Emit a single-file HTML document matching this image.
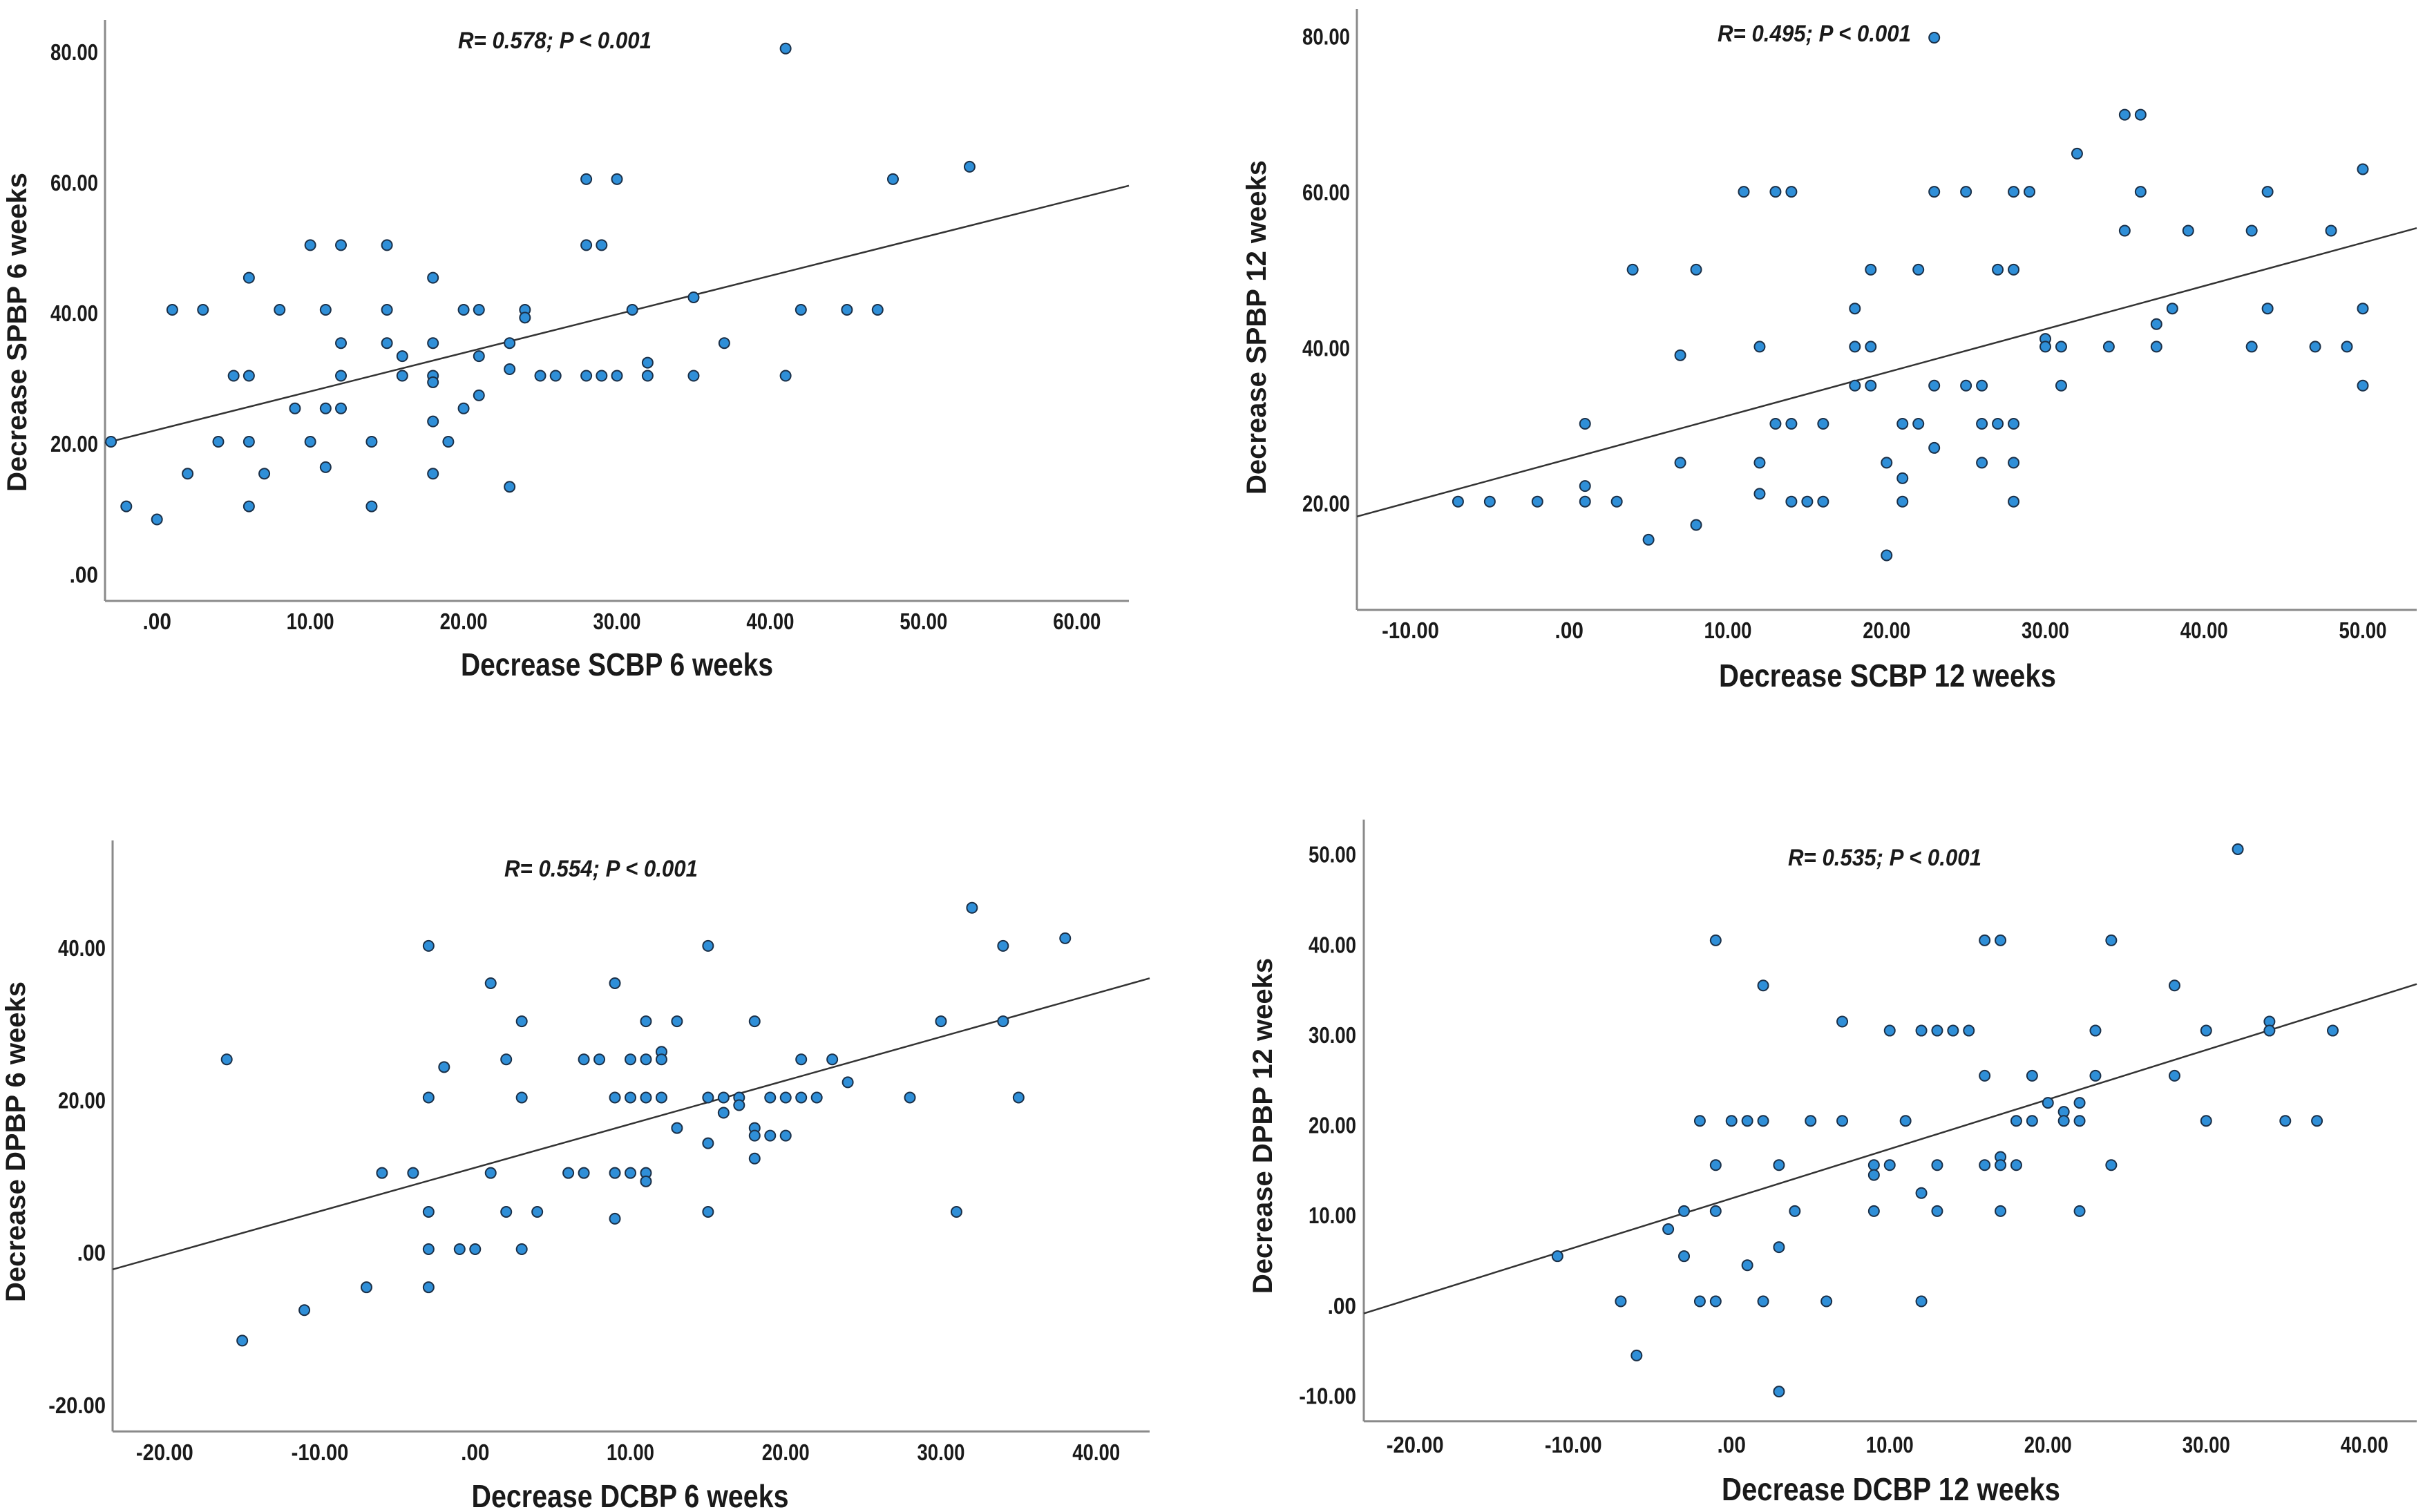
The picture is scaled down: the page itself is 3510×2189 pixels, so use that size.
<!DOCTYPE html>
<html>
<head>
<meta charset="utf-8">
<style>
  html,body{margin:0;padding:0;background:#fff;}
  svg{display:block;}
  .tick{font-family:"Liberation Sans Narrow","Liberation Sans",sans-serif;font-weight:bold;font-size:33px;fill:#1a1a1a;}
  .xtitle{font-family:"Liberation Sans Narrow","Liberation Sans",sans-serif;font-weight:bold;font-size:46px;fill:#1a1a1a;}
  .ytitle{font-family:"Liberation Sans",sans-serif;font-weight:bold;font-size:40px;fill:#1a1a1a;}
  .annot{font-family:"Liberation Sans Narrow","Liberation Sans",sans-serif;font-weight:bold;font-style:italic;font-size:34px;fill:#1a1a1a;}
</style>
</head>
<body>
<svg id="chart" width="3510" height="2189" viewBox="0 0 3510 2189" xmlns="http://www.w3.org/2000/svg"></svg>
<script>
// ---------- Panel 1: SCBP vs SPBP 6 weeks ----------
const p1X = [-3,-2,0,1,2,3,4,5,6,6,6,6,7,8,9,10,10,11,11,11,12,12,12,12,14,14,15,15,15,16,16,18,18,18,18,18,18,19,20,20,21,21,21,23,23,23,24,24,25,26,28,28,28,29,29,30,30,31,32,32,35,35,37,41,41,42,45,47,48,53];
const p1Y = [20.5,10.6,8.6,40.7,15.6,40.7,20.5,30.6,30.6,45.6,20.5,10.6,15.6,40.7,25.6,50.6,20.5,40.7,25.6,16.6,50.6,35.6,30.6,25.6,20.5,10.6,50.6,40.7,35.6,33.6,30.6,45.6,35.6,30.6,29.6,23.6,15.6,20.5,40.7,25.6,40.7,33.6,27.6,35.6,31.6,13.6,40.7,39.5,30.6,30.6,60.7,50.6,30.6,50.6,30.6,60.7,30.6,40.7,32.6,30.6,42.6,30.6,35.6,80.7,30.6,40.7,40.7,40.7,60.7,62.6];
const p1XTicks = [0,10,20,30,40,50,60];
const p1XTickLabels = [".00","10.00","20.00","30.00","40.00","50.00","60.00"];
const p1YTicks = [0,20,40,60,80];
const p1YTickLabels = [".00","20.00","40.00","60.00","80.00"];
const p1Fit = [0.590, 22.3]; // slope, intercept

// ---------- Panel 2: SCBP vs SPBP 12 weeks ----------
const p2X = [-7,-5,-2,1,1,1,3,4,5,7,7,8,8,11,12,12,12,13,13,14,14,14,15,16,16,18,18,18,19,19,19,20,20,21,21,21,22,22,23,23,23,23,25,25,26,26,26,27,27,28,28,28,28,28,29,30,30,31,31,34,35,35,36,36,37,37,38,39,43,43,44,44,47,48,49,50,50,50,32];
const p2Y = [20.4,20.4,20.4,20.4,22.4,30.4,20.4,50.2,15.5,39.2,25.4,50.2,17.4,60.2,40.3,25.4,21.4,60.2,30.4,60.2,30.4,20.4,20.4,30.4,20.4,45.2,40.3,35.3,50.2,40.3,35.3,25.4,13.5,30.4,23.4,20.4,50.2,30.4,80.0,60.2,35.3,27.3,60.2,35.3,35.3,30.4,25.4,50.2,30.4,60.2,50.2,30.4,25.4,20.4,60.2,41.3,40.3,40.3,35.3,40.3,70.1,55.2,70.1,60.2,43.2,40.3,45.2,55.2,55.2,40.3,60.2,45.2,40.3,55.2,40.3,63.1,45.2,35.3,65.1];
const p2XTicks = [-10,0,10,20,30,40,50];
const p2XTickLabels = ["-10.00",".00","10.00","20.00","30.00","40.00","50.00"];
const p2YTicks = [20,40,60,80];
const p2YTickLabels = ["20.00","40.00","60.00","80.00"];
const p2Fit = [0.555, 25.9];

// ---------- Panel 3: DCBP vs DPBP 6 weeks ----------
const p3X = [-16,-15,-11,-7,-6,-4,-3,-3,-3,-3,-3,-2,-1,0,1,1,2,2,3,3,3,4,6,7,7,8,9,9,9,9,10,10,10,11,11,11,11,11,12,12,12,13,13,15,15,15,15,16,16,17,17,18,18,18,18,19,19,20,20,21,21,22,23,24,28,30,31,32,34,34,35,38];
const p3Y = [25.5,-11.4,-7.4,-4.4,10.6,10.6,40.4,20.5,5.5,0.6,-4.4,24.5,0.6,0.6,35.5,10.6,25.5,5.5,30.5,20.5,0.6,5.5,10.6,25.5,10.6,25.5,35.5,20.5,10.6,4.6,25.5,20.5,10.6,30.5,25.5,20.5,10.6,9.5,26.5,25.5,20.5,30.5,16.5,40.4,20.5,14.5,5.5,20.5,18.5,20.5,19.5,30.5,16.5,15.5,12.5,20.5,15.5,20.5,15.5,25.5,20.5,20.5,25.5,22.5,20.5,30.5,5.5,45.4,40.4,30.5,20.5,41.4];
const p3XTicks = [-20,-10,0,10,20,30,40];
const p3XTickLabels = ["-20.00","-10.00",".00","10.00","20.00","30.00","40.00"];
const p3YTicks = [-20,0,20,40];
const p3YTickLabels = ["-20.00",".00","20.00","40.00"];
const p3Fit = [0.572, 11.3];

// ---------- Panel 4: DCBP vs DPBP 12 weeks ----------
const p4X = [-11,-7,-6,-4,-3,-3,-2,-2,-1,-1,-1,-1,0,1,1,2,2,2,3,3,3,4,5,6,7,7,9,9,9,10,10,11,12,12,12,13,13,13,14,15,16,16,16,17,17,17,17,18,18,19,19,20,21,21,22,22,22,23,23,24,24,28,28,30,30,32,34,34,35,37,38];
const p4Y = [5.6,0.6,-5.4,8.6,10.6,5.6,20.6,0.6,40.6,15.7,10.6,0.6,20.6,20.6,4.6,35.6,20.6,0.6,15.7,6.6,-9.4,10.6,20.6,0.6,31.6,20.6,15.7,14.6,10.6,30.6,15.7,20.6,30.6,12.6,0.6,30.6,15.7,10.6,30.6,30.6,40.6,25.6,15.7,40.6,16.6,15.7,10.6,20.6,15.7,25.6,20.6,22.6,21.6,20.6,22.6,20.6,10.6,30.6,25.6,40.6,15.7,35.6,25.6,30.6,20.6,50.7,31.6,30.6,20.6,20.6,30.6];
const p4XTicks = [-20,-10,0,10,20,30,40];
const p4XTickLabels = ["-20.00","-10.00",".00","10.00","20.00","30.00","40.00"];
const p4YTicks = [-10,0,10,20,30,40,50];
const p4YTickLabels = ["-10.00",".00","10.00","20.00","30.00","40.00","50.00"];
const p4Fit = [0.5485, 12.0];

const NS = "http://www.w3.org/2000/svg";
const svg = document.getElementById("chart");

function mk(tag, attrs, parent){
  const e = document.createElementNS(NS, tag);
  for (const k in attrs) e.setAttribute(k, attrs[k]);
  (parent||svg).appendChild(e);
  return e;
}
function tickLen(s){ return s.length * 13.8; }

const layouts = [
  {id:"p1", xs:p1X, ys:p1Y, xt:p1XTicks, xtl:p1XTickLabels, yt:p1YTicks, ytl:p1YTickLabels, fit:p1Fit,
   left:152, right:1634, top:29, bottom:870,
   xa:[0,227.2], xb:[60,1558.8], ya:[0,833.3], yb:[80,76.9],
   xLabY:911, yLabX:142,
   xTitle:"Decrease SCBP 6 weeks", xTitlePos:[893,978], xTitleLen:452,
   yTitle:"Decrease SPBP 6 weeks", yTitlePos:[38,481],
   annot:"R= 0.578; P < 0.001", annotPos:[803,70], annotLen:280},
  {id:"p2", xs:p2X, ys:p2Y, xt:p2XTicks, xtl:p2XTickLabels, yt:p2YTicks, ytl:p2YTickLabels, fit:p2Fit,
   left:1964, right:3498, top:13, bottom:883,
   xa:[-10,2041.5], xb:[50,3420], ya:[20,730.7], yb:[80,54.5],
   xLabY:924, yLabX:1954,
   xTitle:"Decrease SCBP 12 weeks", xTitlePos:[2732,994], xTitleLen:488,
   yTitle:"Decrease SPBP 12 weeks", yTitlePos:[1832,474],
   annot:"R= 0.495; P < 0.001", annotPos:[2626,60], annotLen:280},
  {id:"p3", xs:p3X, ys:p3Y, xt:p3XTicks, xtl:p3XTickLabels, yt:p3YTicks, ytl:p3YTickLabels, fit:p3Fit,
   left:163, right:1664, top:1216.6, bottom:2072.4,
   xa:[-20,238.3], xb:[40,1586.7], ya:[40,1373.8], yb:[-20,2035.8],
   xLabY:2114, yLabX:153,
   xTitle:"Decrease DCBP 6 weeks", xTitlePos:[912,2182], xTitleLen:459,
   yTitle:"Decrease DPBP 6 weeks", yTitlePos:[36,1653],
   annot:"R= 0.554; P < 0.001", annotPos:[870,1269], annotLen:280},
  {id:"p4", xs:p4X, ys:p4Y, xt:p4XTicks, xtl:p4XTickLabels, yt:p4YTicks, ytl:p4YTickLabels, fit:p4Fit,
   left:1974, right:3498, top:1186.6, bottom:2057.8,
   xa:[-20,2048.2], xb:[40,3422.3], ya:[50,1238.6], yb:[-10,2022.5],
   xLabY:2103, yLabX:1963,
   xTitle:"Decrease DCBP 12 weeks", xTitlePos:[2737,2172], xTitleLen:490,
   yTitle:"Decrease DPBP 12 weeks", yTitlePos:[1841,1630],
   annot:"R= 0.535; P < 0.001", annotPos:[2728,1253], annotLen:280}
];

layouts.forEach(function(L){
  const sx = v => L.xa[1] + (v - L.xa[0]) * (L.xb[1]-L.xa[1])/(L.xb[0]-L.xa[0]);
  const sy = v => L.ya[1] + (v - L.ya[0]) * (L.yb[1]-L.ya[1])/(L.yb[0]-L.ya[0]);
  const inv = p => L.xa[0] + (p - L.xa[1]) * (L.xb[0]-L.xa[0])/(L.xb[1]-L.xa[1]);

  const g = mk("g", {});
  
  

  const ya = mk("line", {x1:L.left, y1:L.top, x2:L.left, y2:L.bottom, stroke:"#8a8a8a", "stroke-width":3}, g);
  
  
  const xa = mk("line", {x1:L.left, y1:L.bottom, x2:L.right, y2:L.bottom, stroke:"#8a8a8a", "stroke-width":3}, g);
  
  

  L.xt.forEach(function(v, i){
    const t = mk("text", {x:sx(v), y:L.xLabY, "text-anchor":"middle", class:"tick",
      textLength:tickLen(L.xtl[i]), lengthAdjust:"spacingAndGlyphs"}, g);
    t.textContent = L.xtl[i];
    
    
  });
  L.yt.forEach(function(v, i){
    const t = mk("text", {x:L.yLabX, y:sy(v)+10, "text-anchor":"end", class:"tick",
      textLength:tickLen(L.ytl[i]), lengthAdjust:"spacingAndGlyphs"}, g);
    t.textContent = L.ytl[i];
    
    
  });

  const x0 = inv(L.left), x1 = inv(L.right);
  const fl = mk("line", {x1:sx(x0), y1:sy(L.fit[0]*x0+L.fit[1]), x2:sx(x1), y2:sy(L.fit[0]*x1+L.fit[1]), stroke:"#333", "stroke-width":2.5}, g);
  
  

  L.xs.forEach(function(v, i){
    const c = mk("circle", {cx:sx(v), cy:sy(L.ys[i]), r:7.5, fill:"#2f8fd8", stroke:"#1b3048", "stroke-width":2}, g);
    
    
  });

  const xt = mk("text", {x:L.xTitlePos[0], y:L.xTitlePos[1], "text-anchor":"middle", class:"xtitle",
    textLength:L.xTitleLen, lengthAdjust:"spacingAndGlyphs"}, g);
  xt.textContent = L.xTitle;
  
  

  const yt = mk("text", {x:L.yTitlePos[0], y:L.yTitlePos[1], "text-anchor":"middle", class:"ytitle",
    transform:"rotate(-90 " + L.yTitlePos[0] + " " + L.yTitlePos[1] + ")"}, g);
  yt.textContent = L.yTitle;
  
  

  const an = mk("text", {x:L.annotPos[0], y:L.annotPos[1], "text-anchor":"middle", class:"annot",
    textLength:L.annotLen, lengthAdjust:"spacingAndGlyphs"}, g);
  an.textContent = L.annot;
  
  
});
</script>
</body>
</html>
